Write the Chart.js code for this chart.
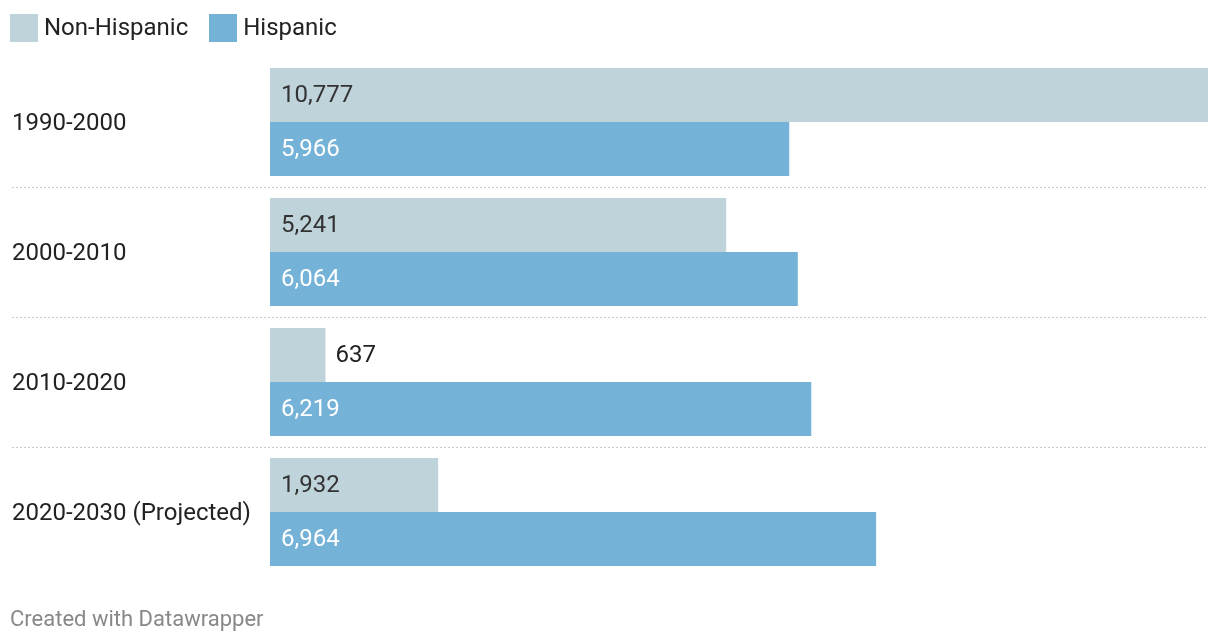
<!DOCTYPE html>
<html>
<head>
<meta charset="utf-8">
<script src="https://cdn.jsdelivr.net/npm/chart.js@4"></script>
<style>
  html, body { margin: 0; padding: 0; background: #fff; }
  body { width: 1220px; height: 644px; position: relative; overflow: hidden; font-family: Roboto, sans-serif; }
  #legend { position: absolute; left: 10px; top: 14px; height: 28px; display: flex; align-items: center; font-size: 24px; color: #222; }
  .item { display: flex; align-items: center; margin-right: 21px; }
  .item span { position: relative; top: -1px; }
  .sw { width: 28px; height: 28px; margin-right: 6px; }
  #footer { position: absolute; left: 10px; top: 606px; font-size: 22px; color: #888; }
  #wrap { position: absolute; left: 0; top: 0; width: 1220px; height: 644px; }
</style>
</head>
<body>
<div id="wrap"><canvas id="c" width="1220" height="644"></canvas></div>
<div id="legend"></div>
<div id="footer">Created with Datawrapper</div>
<script>
const categories = ["1990-2000", "2000-2010", "2010-2020", "2020-2030 (Projected)"];
const nonHispanic = [10777, 5241, 637, 1932];
const hispanic = [5966, 6064, 6219, 6964];
const seriesNames = ["Non-Hispanic", "Hispanic"];
const seriesColors = ["#bfd3db", "#74b3d7"];
const labelColors = ["#333333", "#ffffff"];

const legend = document.getElementById('legend');
seriesNames.forEach((n, i) => {
  const it = document.createElement('div'); it.className = 'item';
  const sw = document.createElement('div'); sw.className = 'sw'; sw.style.background = seriesColors[i];
  const tx = document.createElement('span'); tx.textContent = n;
  it.appendChild(sw); it.appendChild(tx); legend.appendChild(it);
});

const fmt = v => v.toLocaleString('en-US');

const separators = {
  id: 'separators',
  beforeDatasetsDraw(chart) {
    const { ctx, scales: { y }, chartArea } = chart;
    ctx.save();
    ctx.strokeStyle = '#c8c8c8';
    ctx.lineWidth = 1;
    ctx.setLineDash([2, 2]);
    for (let i = 0; i < categories.length - 1; i++) {
      const yy = Math.round((y.getPixelForValue(i) + y.getPixelForValue(i + 1)) / 2) + 0.5;
      ctx.beginPath();
      ctx.moveTo(12, yy);
      ctx.lineTo(chartArea.right, yy);
      ctx.stroke();
    }
    ctx.restore();
  }
};

const valueLabels = {
  id: 'valueLabels',
  afterDatasetsDraw(chart) {
    const { ctx } = chart;
    ctx.save();
    ctx.font = '24px Roboto';
    ctx.textBaseline = 'middle';
    ctx.textAlign = 'left';
    chart.data.datasets.forEach((ds, di) => {
      const meta = chart.getDatasetMeta(di);
      meta.data.forEach((bar, i) => {
        const txt = fmt(ds.data[i]);
        const w = ctx.measureText(txt).width;
        const left = bar.base;
        const right = bar.x;
        if (right - left > w + 22) {
          ctx.fillStyle = labelColors[di];
          ctx.fillText(txt, left + 11, bar.y + 1);
        } else {
          ctx.fillStyle = '#222';
          ctx.fillText(txt, right + 10, bar.y + 1);
        }
      });
    });
    ctx.restore();
  }
};

new Chart(document.getElementById('c'), {
  type: 'bar',
  data: {
    labels: categories,
    datasets: [
      { label: seriesNames[0], data: nonHispanic, backgroundColor: seriesColors[0] },
      { label: seriesNames[1], data: hispanic, backgroundColor: seriesColors[1] }
    ]
  },
  options: {
    indexAxis: 'y',
    responsive: false,
    animation: false,
    layout: { padding: { left: 12, right: 12, top: 57, bottom: 67 } },
    datasets: { bar: { categoryPercentage: 108 / 130, barPercentage: 1.0 } },
    plugins: { legend: { display: false }, tooltip: { enabled: false } },
    scales: {
      x: { display: false, min: 0, max: 10777 },
      y: {
        afterFit(s) { s.width = 258; },
        grid: { display: false, drawTicks: false },
        border: { display: false },
        ticks: { crossAlign: 'far', padding: 0, labelOffset: 2, color: '#222', font: { family: 'Roboto', size: 24 } }
      }
    }
  },
  plugins: [separators, valueLabels]
});
</script>
</body>
</html>
